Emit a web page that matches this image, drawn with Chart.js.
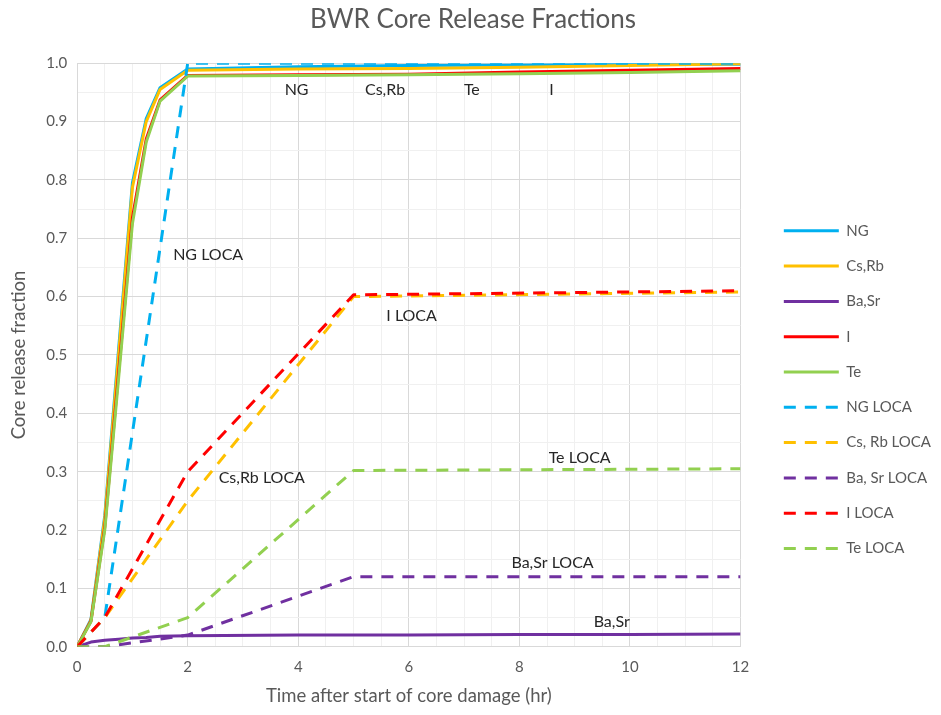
<!DOCTYPE html>
<html>
<head>
<meta charset="utf-8">
<title>BWR Core Release Fractions</title>
<script src="https://cdn.jsdelivr.net/npm/chart.js@4.4.1/dist/chart.umd.min.js"></script>
<style>
  html, body { margin: 0; padding: 0; background: #ffffff; }
  canvas { display: block; }
</style>
</head>
<body>
<canvas id="chart" width="941" height="715"></canvas>
<script>
// Time points (hr) for the in-vessel release curves
const hours = [0, 0.25, 0.5, 0.75, 1, 1.25, 1.5, 2, 4, 6, 8, 10, 12];
// Time points (hr) for the LOCA release curves
const locaHours = [0, 0.5, 2, 5, 12];

// Core release fractions
const ng      = [0, 0.047, 0.225, 0.51, 0.795, 0.905, 0.958, 0.990, 0.994, 0.996, 0.997, 0.998, 0.998];
const csRb    = [0, 0.045, 0.220, 0.50, 0.787, 0.900, 0.955, 0.988, 0.990, 0.991, 0.993, 0.996, 0.999];
const baSr    = [0, 0.008, 0.011, 0.013, 0.015, 0.016, 0.018, 0.019, 0.020, 0.020, 0.021, 0.021, 0.022];
const iodine  = [0, 0.044, 0.205, 0.47, 0.735, 0.870, 0.937, 0.979, 0.980, 0.981, 0.985, 0.988, 0.991];
const te      = [0, 0.043, 0.200, 0.46, 0.725, 0.865, 0.935, 0.978, 0.979, 0.980, 0.982, 0.984, 0.987];

const ngLoca     = [0, 0.05, 1.00, 1.000, 1.000];
const csRbLoca   = [0, 0.05, 0.25, 0.600, 0.608];
const baSrLoca   = [0, 0.00, 0.02, 0.120, 0.120];
const iodineLoca = [0, 0.05, 0.30, 0.603, 0.610];
const teLoca     = [0, 0.00, 0.05, 0.302, 0.305];

// In-plot curve labels: text, time (hr), fraction
const noteText = ['NG', 'Cs,Rb', 'Te', 'I', 'NG LOCA', 'I LOCA', 'Cs,Rb LOCA', 'Te LOCA', 'Ba,Sr LOCA', 'Ba,Sr'];
const noteHour = [3.97, 5.57, 7.14, 8.58, 2.37, 6.05, 3.34, 9.09, 8.60, 9.67];
const noteFrac = [0.954, 0.954, 0.954, 0.954, 0.672, 0.567, 0.290, 0.323, 0.144, 0.043];

const FONT = 'Lato, "Open Sans", sans-serif';
const GREY = '#595959';
const DASH = [12, 9];

function pts(xs, ys) { return xs.map((x, i) => ({ x: x, y: ys[i] })); }

const seriesDefs = [
  { label: 'NG',           xs: hours,     ys: ng,         color: '#00b0f0', dash: [] },
  { label: 'Cs,Rb',        xs: hours,     ys: csRb,       color: '#ffc000', dash: [] },
  { label: 'Ba,Sr',        xs: hours,     ys: baSr,       color: '#7030a0', dash: [] },
  { label: 'I',            xs: hours,     ys: iodine,     color: '#ff0000', dash: [] },
  { label: 'Te',           xs: hours,     ys: te,         color: '#92d050', dash: [] },
  { label: 'NG LOCA',      xs: locaHours, ys: ngLoca,     color: '#00b0f0', dash: DASH },
  { label: 'Cs, Rb LOCA',  xs: locaHours, ys: csRbLoca,   color: '#ffc000', dash: DASH },
  { label: 'Ba, Sr LOCA',  xs: locaHours, ys: baSrLoca,   color: '#7030a0', dash: DASH },
  { label: 'I LOCA',       xs: locaHours, ys: iodineLoca, color: '#ff0000', dash: DASH },
  { label: 'Te LOCA',      xs: locaHours, ys: teLoca,     color: '#92d050', dash: DASH }
];

const datasets = seriesDefs.map((s, i) => ({
  label: s.label,
  data: pts(s.xs, s.ys),
  borderColor: s.color,
  backgroundColor: s.color,
  borderWidth: 3,
  borderDash: s.dash,
  borderCapStyle: 'butt',
  borderJoinStyle: 'round',
  pointRadius: 0,
  tension: 0,
  fill: false,
  // later series are painted over earlier ones
  order: seriesDefs.length - i
}));

const curveLabels = {
  id: 'curveLabels',
  afterDatasetsDraw(chart) {
    const { ctx, scales: { x, y } } = chart;
    ctx.save();
    ctx.font = '16px ' + FONT;
    ctx.fillStyle = '#262626';
    ctx.textAlign = 'center';
    ctx.textBaseline = 'middle';
    noteText.forEach((t, i) => {
      ctx.fillText(t, x.getPixelForValue(noteHour[i]), y.getPixelForValue(noteFrac[i]));
    });
    ctx.restore();
  }
};

function isMajorY(v) { return Math.round(v * 100) % 10 === 0; }
function isMajorX(v) { return Math.round(v * 10) % 20 === 0; }

new Chart(document.getElementById('chart'), {
  type: 'line',
  data: { datasets: datasets },
  plugins: [curveLabels],
  options: {
    responsive: false,
    animation: false,
    devicePixelRatio: 1,
    layout: { padding: { left: 5, right: 0, top: 4, bottom: 9.75 } },
    plugins: {
      title: {
        display: true,
        text: 'BWR Core Release Fractions',
        color: GREY,
        font: { family: FONT, size: 26, weight: 'normal' },
        padding: { top: 0, bottom: 28 }
      },
      legend: {
        position: 'right',
        maxWidth: 200,
        title: {
          display: true,
          text: ' ',
          font: { family: FONT, size: 10 },
          padding: { top: 58, bottom: 0 }
        },
        labels: {
          color: GREY,
          font: { family: FONT, size: 15 },
          usePointStyle: true,
          pointStyle: 'line',
          pointStyleWidth: 55,
          padding: 20.3,
          sort: (a, b) => a.datasetIndex - b.datasetIndex,
          generateLabels(chart) {
            const items = Chart.defaults.plugins.legend.labels.generateLabels(chart);
            items.forEach(it => {
              const ds = chart.data.datasets[it.datasetIndex];
              it.strokeStyle = ds.borderColor;
              it.fillStyle = ds.borderColor;
              it.lineWidth = ds.borderWidth;
              it.lineDash = ds.borderDash;
              it.lineCap = 'butt';
            });
            return items;
          }
        }
      },
      tooltip: { enabled: false }
    },
    scales: {
      x: {
        type: 'linear',
        min: 0,
        max: 12,
        border: { color: '#d9d9d9', width: 1 },
        grid: {
          drawTicks: false,
          color: ctx => isMajorX(ctx.tick.value) ? '#d9d9d9' : '#f0f0f0'
        },
        ticks: {
          stepSize: 0.5,
          autoSkip: false,
          maxRotation: 0,
          padding: 11,
          color: GREY,
          font: { family: FONT, size: 15 },
          callback: v => isMajorX(v) ? String(Math.round(v)) : ''
        },
        title: {
          display: true,
          text: 'Time after start of core damage (hr)',
          color: GREY,
          font: { family: FONT, size: 18.5, lineHeight: 1 },
          padding: { top: 0, bottom: 0 }
        }
      },
      y: {
        type: 'linear',
        min: 0,
        max: 1,
        border: { color: '#d9d9d9', width: 1 },
        grid: {
          drawTicks: false,
          color: ctx => isMajorY(ctx.tick.value) ? '#d9d9d9' : '#f0f0f0'
        },
        ticks: {
          stepSize: 0.05,
          autoSkip: false,
          padding: 10,
          color: GREY,
          font: { family: FONT, size: 15 },
          callback: v => isMajorY(v) ? v.toFixed(1) : ''
        },
        title: {
          display: true,
          text: 'Core release fraction',
          color: GREY,
          font: { family: FONT, size: 18.5 },
          padding: { top: 3, bottom: 6 }
        }
      },
      // spacer between the plot area and the legend
      gap: {
        type: 'linear',
        position: 'right',
        display: true,
        grid: { display: false },
        border: { display: false },
        ticks: { display: false },
        afterFit(scale) { scale.width = 23; }
      }
    }
  }
});
</script>
</body>
</html>
